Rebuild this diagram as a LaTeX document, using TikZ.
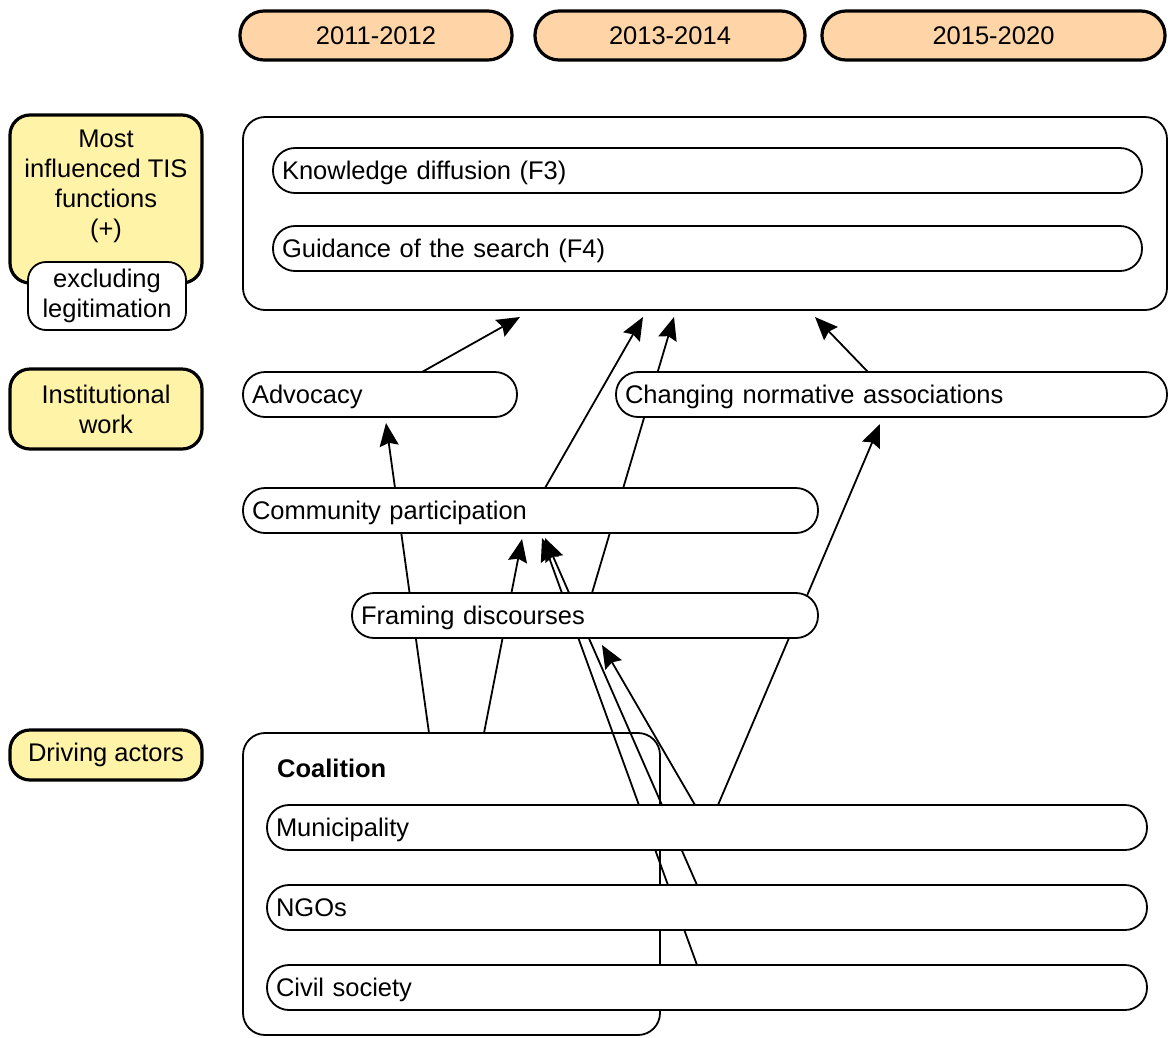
\documentclass[tikz,border=0pt]{standalone}
\usepackage{fontspec}
\setmainfont{Liberation Sans}
\usetikzlibrary{arrows.meta,calc}
\pgfdeclarelayer{bg}
\pgfdeclarelayer{mid}
\pgfsetlayers{bg,mid,main}
\definecolor{peach}{RGB}{255,213,168}
\definecolor{lemon}{RGB}{255,243,168}
\begin{document}
\begin{tikzpicture}[x=1pt,y=-1pt,
  font=\fontsize{25.5}{30}\selectfont,
  box/.style={draw, line width=1.8pt, fill=white, rounded corners=22pt,
    anchor=north west, outer sep=0pt, inner xsep=9pt, inner ysep=0pt,
    align=left, text height=20pt, text depth=2pt},
  pill/.style n args={3}{box, minimum width=#1, text width=#2, minimum height=#3},
  period/.style={draw, line width=3.2pt, fill=peach, rounded corners=24pt,
    anchor=north west, outer sep=0pt, minimum height=49pt, align=center},
  cat/.style={draw, line width=3.2pt, fill=lemon, rounded corners=20pt,
    anchor=north west, outer sep=0pt, minimum width=192pt, align=center, inner xsep=2pt},
  arr/.style={line width=1.8pt, -{Stealth[length=23pt,width=19pt,inset=3pt]}}
]
\useasboundingbox (0,0) rectangle (1168,1037);

% period headers
\node[period, minimum width=272pt] (h1) at (240,11) {2011-2012};
\node[period, minimum width=270pt] (h2) at (535,11) {2013-2014};
\node[period, minimum width=343pt] (h3) at (822,11) {2015-2020};

% category labels
\node[cat, minimum height=168pt] (lab1) at (10,115) {Most\\influenced TIS\\functions\\(+)\\\mbox{}};
\node[draw, line width=1.8pt, fill=white, rounded corners=18pt, anchor=north west,
  outer sep=0pt, minimum width=158pt, minimum height=68pt, align=center, inner xsep=2pt]
  (excl) at (28,262) {excluding\\legitimation};
\node[cat, minimum height=80pt] (lab2) at (10,369) {Institutional\\work};
\node[cat, minimum height=50pt] (lab3) at (10,730) {Driving actors};

% TIS functions
\node[draw, line width=1.8pt, fill=white, rounded corners=22pt, anchor=north west,
  outer sep=0pt, minimum width=924pt, minimum height=193pt] (fbox) at (243,117) {};
\node[pill={869pt}{851pt}{45pt}] (kd) at (273,148) {Knowledge diffusion (F3)};
\node[pill={869pt}{851pt}{45pt}] (gs) at (273,226) {Guidance of the search (F4)};

% coalition container
\begin{pgfonlayer}{bg}
\node[draw, line width=1.8pt, fill=white, rounded corners=22pt, anchor=north west,
  outer sep=0pt, minimum width=417pt, minimum height=302pt] (coal) at (243,733) {};
\end{pgfonlayer}
\node[anchor=west, font=\fontsize{25.5}{30}\selectfont\bfseries, inner sep=0pt] (coaltitle)
  at ([xshift=34pt,yshift=-35pt]coal.north west) {Coalition};

% institutional work
\node[pill={274pt}{256pt}{45pt}] (adv) at (243,372) {Advocacy};
\node[pill={551pt}{533pt}{45pt}] (cna) at (616,372) {Changing normative associations};
\node[pill={575pt}{557pt}{45pt}] (cp) at (243,488) {Community participation};
\node[pill={466pt}{448pt}{45pt}] (fd) at (352,593) {Framing discourses};

% actors
\node[pill={880pt}{862pt}{45pt}] (mun) at (267,805) {Municipality};
\node[pill={880pt}{862pt}{45pt}] (ngo) at (267,885) {NGOs};
\node[pill={880pt}{862pt}{45pt}] (civ) at (267,965) {Civil society};

% connectors
\begin{pgfonlayer}{mid}
\draw[arr] ([xshift=179pt]adv.north west) -- ([xshift=277pt,yshift=-7pt]fbox.south west);
\draw[arr] ([xshift=302pt]cp.north west) -- ([xshift=400pt,yshift=-7pt]fbox.south west);
\draw[arr] ([xshift=240pt]fd.north west) -- ([xshift=431pt,yshift=-7pt]fbox.south west);
\draw[arr] ([xshift=252pt]cna.north west) -- ([xshift=572pt,yshift=-7pt]fbox.south west);
\draw[arr] ([xshift=186pt]coal.north west) -- ([xshift=143pt,yshift=-6pt]adv.south west);
\draw[arr] ([xshift=241pt]coal.north west) -- ([xshift=279pt,yshift=-6pt]cp.south west);
\draw[arr] ([xshift=430pt]civ.north west) -- ([xshift=299pt,yshift=-5pt]cp.south west);
\draw[arr] ([xshift=430pt]ngo.north west) -- ([xshift=302pt,yshift=-5pt]cp.south west);
\draw[arr] ([xshift=428pt]mun.north west) -- ([xshift=250pt,yshift=-7pt]fd.south west);
\draw[arr] ([xshift=451pt]mun.north west) -- ([xshift=264pt,yshift=-7pt]cna.south west);
\end{pgfonlayer}
\end{tikzpicture}
\end{document}
